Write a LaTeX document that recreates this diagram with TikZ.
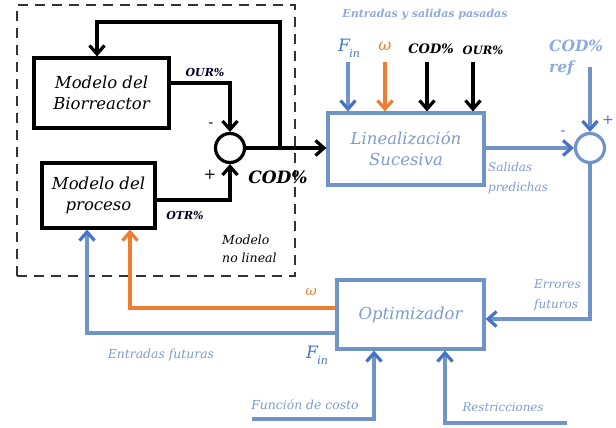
\documentclass[tikz,border=0pt]{standalone}
\usepackage{fontspec}
\setmainfont{DejaVu Serif}
\usetikzlibrary{arrows.meta}
\definecolor{lblue}{HTML}{7094C8}
\definecolor{ablue}{HTML}{4472C4}
\definecolor{tblue}{HTML}{7F9BCB}
\definecolor{pblue}{HTML}{8FAADC}
\definecolor{orng}{HTML}{ED7D31}
\newcommand\Fin{F\kern-0.5pt\raisebox{-0.35em}{\fontsize{11}{11}\selectfont in}}
\begin{document}
\begin{tikzpicture}[x=1pt,y=-1pt,
  blk/.style={draw=black,line width=3.2pt,align=center,inner sep=2pt,
    font=\fontsize{16.5}{21}\selectfont\itshape},
  bblk/.style={draw=lblue,line width=3.2pt,align=center,inner sep=2pt,text=tblue,
    font=\fontsize{16.5}{21}\selectfont\itshape},
  sumc/.style={circle,draw=black,line width=3.2pt,minimum size=29pt,inner sep=0pt},
  bsumc/.style={circle,draw=lblue,line width=3.2pt,minimum size=29pt,inner sep=0pt},
  wire/.style={line width=3.2pt,black,-{Straight Barb[length=8.5pt,width=15pt]}},
  bwire/.style={line width=3.2pt,lblue,-{Straight Barb[length=8.5pt,width=15pt,color=ablue]}},
  owire/.style={line width=3.2pt,orng,-{Straight Barb[length=8.5pt,width=15pt]}},
  lbl/.style={inner sep=0pt,font=\fontsize{11}{13}\selectfont\itshape},
  blbl/.style={inner sep=0pt,font=\fontsize{11}{13}\selectfont\bfseries\itshape}
]
\useasboundingbox (0,0) rectangle (616,428);
% dashed model box
\node[draw=black!80,line width=1.5pt,dash pattern=on 10pt off 7pt,
  minimum width=278pt,minimum height=271pt,inner sep=0pt] (dbox) at (156,140.5) {};
% blocks
\node[blk,minimum width=135pt,minimum height=70pt] (bio) at (101.5,93) {Modelo del\\Biorreactor};
\node[blk,minimum width=113pt,minimum height=65pt] (proc) at (98.5,195.5) {Modelo del\\proceso};
\node[sumc] (s1) at (230,148) {};
\node[bblk,minimum width=156pt,minimum height=72pt] (lin) at (406,149) {Linealización\\Sucesiva};
\node[bsumc] (s2) at (590,148) {};
\node[bblk,minimum width=147pt,minimum height=69pt] (opt) at (410.5,314.5) {Optimizador};
% left loop
\draw[wire] ([yshift=10pt]bio.east) -| (s1.north);
\draw[wire] ([yshift=-4.5pt]proc.east) -| (s1.south);
\draw[wire] (s1.east) -- (s1.east -| lin.west);
\coordinate (fb) at (280,148);
\coordinate (fbc) at (97,22);
\draw[wire] (fb) |- (fbc) -- (fbc |- bio.north);
% top inputs
\coordinate (i1) at (348,62);
\coordinate (i2) at (385,62);
\coordinate (i3) at (427,62);
\coordinate (i4) at (473,62);
\draw[bwire] (i1) -- (i1 |- lin.north);
\draw[owire] (i2) -- (i2 |- lin.north);
\draw[wire] (i3) -- (i3 |- lin.north);
\draw[wire] (i4) -- (i4 |- lin.north);
% right side
\draw[bwire] (lin.east |- s2.west) -- (s2.west);
\coordinate (ref) at (590,67);
\draw[bwire] (ref) -- (s2.north);
\coordinate (err) at (590,319);
\draw[bwire] (s2.south) -- (err) -- (err -| opt.east);
% outputs of optimizer
\coordinate (wc) at (130,308);
\draw[owire] (wc -| opt.west) -- (wc) -- (wc |- proc.south);
\coordinate (fc) at (87,333);
\draw[bwire] (fc -| opt.west) -- (fc) -- (fc |- proc.south);
% bottom inputs
\coordinate (c1) at (252,419);
\coordinate (c2) at (374,419);
\draw[bwire] (c1) -- (c2) -- (c2 |- opt.south);
\coordinate (r1) at (567,423);
\coordinate (r2) at (445,423);
\draw[bwire] (r1) -- (r2) -- (r2 |- opt.south);
% labels
\node[inner sep=0pt,font=\fontsize{15}{15}\selectfont] (lm1) at (211,125) {-};
\node[inner sep=0pt,font=\fontsize{15}{15}\selectfont] (lp1) at (210,175) {+};
\node[blbl,text=black!85!blue] (lour) at (205,72) {OUR\%};
\node[blbl,text=black!85!blue] (lotr) at (185,215) {OTR\%};
\node[inner sep=0pt,font=\fontsize{17}{17}\selectfont\bfseries\itshape] (lcod) at (278,177) {COD\%};
\node[lbl,align=left,anchor=west,font=\fontsize{12.5}{18}\selectfont\itshape] (lmod) at (222,249) {Modelo\\no lineal};
\node[blbl,text=pblue] (lesp) at (425,15) {Entradas y salidas pasadas};
\node[inner sep=0pt,text=ablue,font=\fontsize{17}{17}\selectfont\itshape] (lfin1) at (349,48) {\Fin};
\node[inner sep=0pt,text=orng,font=\fontsize{16}{16}\selectfont\itshape] (lw1) at (385,46) {ω};
\node[inner sep=0pt,font=\fontsize{13}{13}\selectfont\bfseries\itshape] (lcod2) at (431,49) {COD\%};
\node[inner sep=0pt,font=\fontsize{11.5}{11.5}\selectfont\bfseries\itshape] (lour2) at (483,50) {OUR\%};
\node[inner sep=0pt,align=left,anchor=west,text=pblue,font=\fontsize{15.5}{21}\selectfont\bfseries\itshape] (lref) at (549,58) {COD\%\\ref};
\node[inner sep=0pt,text=ablue,font=\fontsize{14}{14}\selectfont] (lp2) at (608,120) {+};
\node[inner sep=0pt,text=ablue,font=\fontsize{15}{15}\selectfont] (lm2) at (563,133) {-};
\node[lbl,align=left,anchor=west,text=tblue,font=\fontsize{12}{20}\selectfont\itshape] (lsp) at (488,178) {Salidas\\predichas};
\node[lbl,align=left,anchor=west,text=tblue,font=\fontsize{12}{20}\selectfont\itshape] (lerr) at (534,295) {Errores\\futuros};
\node[inner sep=0pt,text=orng,font=\fontsize{14}{14}\selectfont\itshape] (lw2) at (311,292) {ω};
\node[lbl,text=tblue,font=\fontsize{12.4}{13}\selectfont\itshape] (lef) at (161,355) {Entradas futuras};
\node[inner sep=0pt,text=ablue,font=\fontsize{17}{17}\selectfont\itshape] (lfin2) at (317,355) {\Fin};
\node[lbl,text=tblue,font=\fontsize{12.4}{13}\selectfont\itshape] (lfc) at (305,405) {Función de costo};
\node[lbl,text=tblue,font=\fontsize{11.8}{12}\selectfont\itshape] (lres) at (503,407) {Restricciones};
\end{tikzpicture}
\end{document}
